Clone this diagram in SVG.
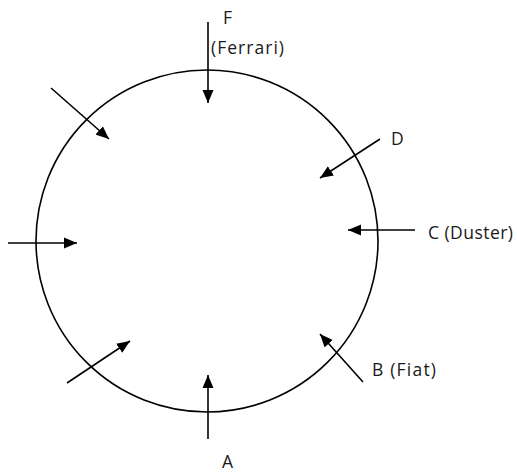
<svg xmlns="http://www.w3.org/2000/svg" width="517" height="472" viewBox="0 0 517 472">
<style>
.c{fill:none;stroke:#000;stroke-width:1.6}
.a{stroke:#000;stroke-width:1.6;fill:none;marker-end:url(#h)}
text{font-family:"Open Sans","Liberation Sans",sans-serif;font-size:17.5px;fill:#1a1a1a}
</style>
<defs>
<marker id="h" markerUnits="userSpaceOnUse" markerWidth="14" markerHeight="12" refX="13" refY="5.5" orient="auto" viewBox="0 0 14 11">
<path d="M0,0 L13,5.5 L0,11 z" fill="#000"/>
</marker>
</defs>
<rect width="517" height="472" fill="#fff"/>
<g id="circle"><circle class="c" cx="207" cy="241" r="171"/></g>
<g id="connectors">
<line class="a" x1="208" y1="22" x2="208" y2="103"/>
<line class="a" x1="380" y1="139" x2="320" y2="178"/>
<line class="a" x1="415" y1="230" x2="348" y2="230"/>
<line class="a" x1="363" y1="382" x2="320" y2="334"/>
<line class="a" x1="208" y1="439" x2="208" y2="375"/>
<line class="a" x1="67" y1="383" x2="130" y2="341"/>
<line class="a" x1="8" y1="243" x2="77" y2="243"/>
<line class="a" x1="51" y1="88" x2="109" y2="139"/>
</g>
<g id="labels">
<text x="223" y="24">F</text>
<text x="211" y="54" textLength="73">(Ferrari)</text>
<text x="391" y="145">D</text>
<text x="428" y="239" textLength="85">C (Duster)</text>
<text x="372" y="376" textLength="64">B (Fiat)</text>
<text x="222" y="468">A</text>
</g>
</svg>
